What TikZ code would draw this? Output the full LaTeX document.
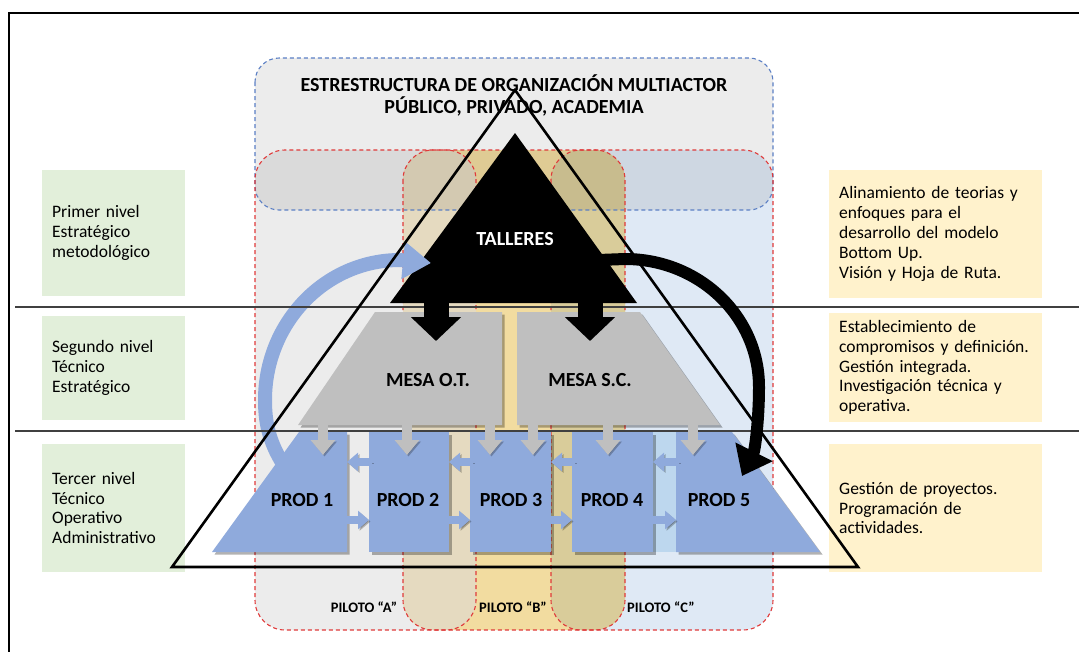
\documentclass[tikz,border=0pt]{standalone}
\usepackage{fontspec}
\setmainfont{Carlito}
\usepackage{tikz}
\usetikzlibrary{positioning}
\usetikzlibrary{arrows.meta}
\usetikzlibrary{shadows}
\definecolor{prodblue}{HTML}{8FAADC}
\definecolor{mesagray}{HTML}{BFBFBF}
\definecolor{levelgreen}{HTML}{E2EFDA}
\definecolor{noteyellow}{HTML}{FFF2CC}
\definecolor{pilotgray}{HTML}{ECECEC}
\definecolor{pilotyellow}{HTML}{F2DCA0}
\definecolor{pilotblue}{HTML}{DFE9F5}
\definecolor{overlapab}{HTML}{E5DAC0}
\definecolor{overlapbc}{HTML}{D9CC9A}
\definecolor{stripblue}{HTML}{BDD7EE}
\definecolor{dashred}{HTML}{E03A3A}
\definecolor{dashblue}{HTML}{5B7FC4}

\begin{document}
\begin{tikzpicture}[x=1pt, y=-1pt,
    font=\fontsize{17.5}{19.8}\selectfont,
    levelbox/.style={fill=levelgreen, anchor=west, align=left, text width=123pt, inner xsep=10pt},
    notebox/.style={fill=noteyellow, anchor=west, align=left, text width=193pt, inner xsep=10pt},
    biglabel/.style={font=\bfseries\fontsize{20}{24}\selectfont},
    pilotlabel/.style={font=\bfseries\fontsize{14.5}{17}\selectfont},
    pilotline/.style={draw=dashred, line width=1.1pt, dash pattern=on 4pt off 3pt, rounded corners=30pt},
    sepline/.style={draw=black!75, line width=1.3pt},
    boxshadow/.style={drop shadow={shadow xshift=2.5pt, shadow yshift=-2.5pt, opacity=0.3, fill=black}},
    tipshadow/.style={preaction={draw=black, opacity=0.25, transform canvas={xshift=1.5pt, yshift=-1.5pt}}},
    blackarrow/.style={draw=black, line width=25pt, -{Triangle[length=24pt, width=49pt]}},
    grayarrow/.style={draw=mesagray, line width=10pt, -{Triangle[length=15pt, width=24pt]}, tipshadow},
    bluearrow/.style={draw=prodblue, line width=8pt, -{Triangle[length=11pt, width=18pt]}, tipshadow},
    bluearc/.style={draw=prodblue, line width=14pt, -{Triangle[length=28pt, width=36pt]}},
    blackarc/.style={draw=black, line width=12pt, -{Triangle[length=27pt, width=40pt]}},
    ]
    \useasboundingbox (0,0) rectangle (1079,651);
    % Draw the frame
    \draw[line width=2pt] (9,13) rectangle (1100,680);

    % Add the level descriptions on the left
    \foreach \name/\y/\h/\txt in {
        lv1/233/126/{Primer nivel\\Estratégico\\metodológico},
        lv2/368/104/{Segundo nivel\\Técnico\\Estratégico},
        lv3/508/128/{Tercer nivel\\Técnico\\Operativo\\Administrativo}}{
        \node[levelbox, minimum height=\h pt] (\name) at (42,\y) {\txt};
    }
    % Add the notes on the right
    \foreach \name/\y/\h/\txt in {
        nt1/234/128/{Alinamiento de teorias y\\enfoques para el\\desarrollo del modelo\\Bottom Up.\\Visión y Hoja de Ruta.},
        nt2/367.5/109/{Establecimiento de\\compromisos y definición.\\Gestión integrada.\\Investigación técnica y\\operativa.},
        nt3/508/128/{Gestión de proyectos.\\Programación de\\actividades.}}{
        \node[notebox, minimum height=\h pt] (\name) at (829,\y) {\txt};
    }

    % Draw the pilot areas
    \fill[pilotgray, rounded corners=30pt] (255,150) rectangle (476,630);
    \fill[pilotblue, rounded corners=30pt] (551,150) rectangle (773,630);
    \fill[pilotyellow, rounded corners=30pt] (403,150) rectangle (625,630);
    \begin{scope}
        \clip[rounded corners=30pt] (255,150) rectangle (476,630);
        \fill[overlapab, rounded corners=30pt] (403,150) rectangle (625,630);
    \end{scope}
    \begin{scope}
        \clip[rounded corners=30pt] (551,150) rectangle (773,630);
        \fill[overlapbc, rounded corners=30pt] (403,150) rectangle (625,630);
    \end{scope}
    % Multiactor area on top
    \fill[black, fill opacity=0.075, rounded corners=24pt] (255,58) rectangle (773,210);
    \draw[dashblue, line width=1.1pt, dash pattern=on 4pt off 3pt, rounded corners=24pt] (255,58) rectangle (773,210);
    \foreach \xa/\xb in {255/476, 403/625, 551/773}
        \draw[pilotline] (\xa,150) rectangle (\xb,630);

    % Draw the title
    \node[biglabel, align=center, font=\bfseries\fontsize{20}{22}\selectfont] (title) at (514,95)
        {ESTRESTRUCTURA DE ORGANIZACIÓN MULTIACTOR\\PÚBLICO, PRIVADO, ACADEMIA};

    % Draw the mesas and the products
    \fill[stripblue] (653,432) rectangle (676,552);
    \fill[mesagray, boxshadow] (375,312) -- (502,312) -- (502,425) -- (298,425) -- cycle;
    \fill[mesagray, boxshadow] (517,312) -- (640,312) -- (720,425) -- (517,425) -- cycle;
    \fill[prodblue, boxshadow] (299,432) -- (347,432) -- (347,552) -- (212,552) -- cycle;
    \foreach \xa/\xb in {369/449, 470/551, 572/653}
        \fill[prodblue, boxshadow] (\xa,432) rectangle (\xb,552);
    \fill[prodblue, boxshadow] (676,432) -- (732,432) -- (820,552) -- (676,552) -- cycle;

    % Draw the talleres
    \fill[black] (515,133) -- (637,303) -- (390,303) -- cycle;

    % Blue feedback arc
    \coordinate (arcb-s) at (283,464);
    \coordinate (arcb-e) at (431,263);
    \draw[bluearc] (arcb-s) .. controls (268,440) and (265,420) .. (265,400)
        .. controls (265,323) and (325,260) .. (400,260) -- (arcb-e);

    % Level separators
    \draw[sepline] (15,307) -- (1079,307);
    \draw[sepline] (15,431) -- (1079,431);

    % Draw the big triangle
    \draw[line width=2.6pt, line join=miter] (172,567) -- (515,90) -- (858,567) -- cycle;

    % Arrows from talleres to mesas
    \foreach \x [count=\i] in {436,590}{
        \coordinate (ta\i) at (\x,298);
        \coordinate (ma\i) at (\x,341);
        \draw[blackarrow] (ta\i) -- (ma\i);
    }
    % Arrows from mesas to products
    \foreach \x [count=\i] in {323,407,490,533,608,693}{
        \coordinate (gs\i) at (\x,424);
        \coordinate (ge\i) at (\x,455);
        \draw[grayarrow] (gs\i) -- (ge\i);
    }
    % Arrows between products
    \foreach \xl/\xr [count=\i] in {347/369, 449/470, 551/572, 653/676}{
        \coordinate (ls\i) at (\xr+3,462);
        \coordinate (le\i) at (\xl,462);
        \coordinate (rs\i) at (\xl-3,520);
        \coordinate (re\i) at (\xr,520);
        \draw[bluearrow] (ls\i) -- (le\i);
        \draw[bluearrow] (rs\i) -- (re\i);
    }

    % Black arc down to the products
    \coordinate (arck-s) at (598,260);
    \coordinate (arck-e) at (742,476);
    \draw[blackarc] (arck-s) -- (625,259) .. controls (699,259) and (759,316) .. (759,387)
        .. controls (759,420) and (755,450) .. (arck-e);

    % Labels
    \node[biglabel, text=white] (tall) at (515,239) {TALLERES};
    \node[biglabel] (mot) at (428,380) {MESA O.T.};
    \node[biglabel] (msc) at (590,380) {MESA S.C.};
    \foreach \x [count=\i] in {302,408,511,612,719}
        \node[biglabel] (prod\i) at (\x,500) {PROD \i};
    \foreach \x/\p in {364/A, 513/B, 661/C}
        \node[pilotlabel] (pilot\p) at (\x,607) {PILOTO “\p”};
\end{tikzpicture}
\end{document}
